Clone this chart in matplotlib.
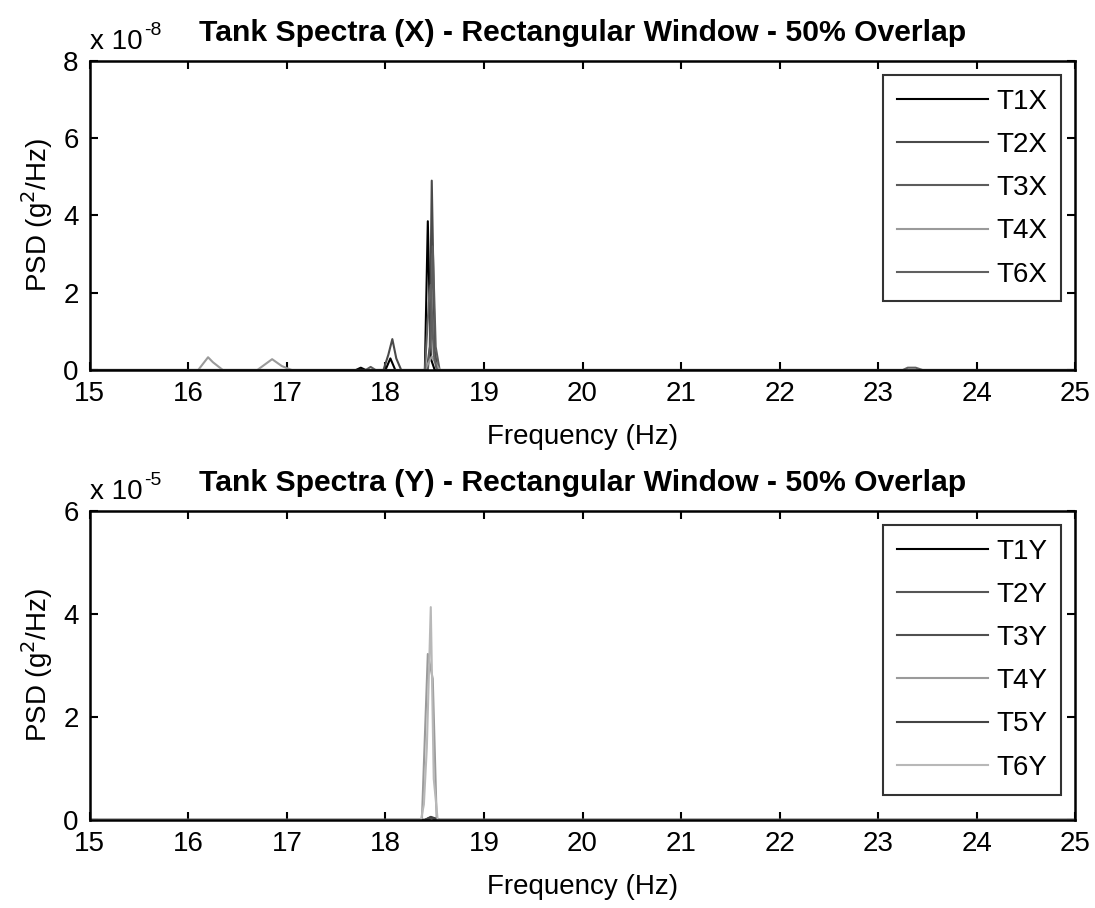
import matplotlib
matplotlib.use('Agg')
from matplotlib import pyplot as plt

plt.rcParams['font.family'] = ['Liberation Sans', 'DejaVu Sans']

# PSD in units of 1e-8 g^2/Hz (X direction)
t1x_f = [15.0, 17.70, 17.75, 17.80, 18.00, 18.05, 18.10, 18.40, 18.43, 18.46, 18.50, 25.0]
t1x_v = [0.0, 0.0, 0.06, 0.0, 0.0, 0.30, 0.0, 0.0, 3.85, 0.30, 0.0, 0.0]
t2x_f = [15.0, 17.98, 18.03, 18.07, 18.11, 18.16, 18.42, 18.45, 18.47, 18.50, 18.53, 25.0]
t2x_v = [0.0, 0.0, 0.40, 0.80, 0.30, 0.0, 0.0, 0.60, 4.90, 0.50, 0.0, 0.0]
t3x_f = [15.0, 17.80, 17.85, 17.90, 18.43, 18.46, 18.48, 18.51, 18.55, 25.0]
t3x_v = [0.0, 0.0, 0.08, 0.0, 0.0, 0.80, 3.20, 0.60, 0.0, 0.0]
t4x_f = [15.0, 16.10, 16.20, 16.25, 16.35, 16.70, 16.85, 16.95, 17.05, 18.40, 18.47, 18.55, 25.0]
t4x_v = [0.0, 0.0, 0.33, 0.20, 0.0, 0.0, 0.28, 0.10, 0.0, 0.0, 0.35, 0.0, 0.0]
t6x_f = [15.0, 18.40, 18.44, 18.46, 18.49, 18.52, 23.25, 23.30, 23.38, 23.45, 25.0]
t6x_v = [0.0, 0.0, 1.74, 2.20, 0.40, 0.0, 0.0, 0.06, 0.06, 0.0, 0.0]

# PSD in units of 1e-5 g^2/Hz (Y direction)
t1y_f = [15.0, 18.40, 18.46, 18.52, 25.0]
t1y_v = [0.0, 0.0, 0.05, 0.0, 0.0]
t2y_f = [15.0, 18.41, 18.47, 18.53, 25.0]
t2y_v = [0.0, 0.0, 0.04, 0.0, 0.0]
t3y_f = [15.0, 18.42, 18.47, 18.54, 25.0]
t3y_v = [0.0, 0.0, 0.04, 0.0, 0.0]
t4y_f = [15.0, 18.37, 18.43, 18.48, 18.52, 25.0]
t4y_v = [0.0, 0.0, 3.22, 2.74, 0.0, 0.0]
t5y_f = [15.0, 18.40, 18.46, 18.55, 25.0]
t5y_v = [0.0, 0.0, 0.06, 0.0, 0.0]
t6y_f = [15.0, 18.36, 18.39, 18.42, 18.46, 18.49, 18.53, 25.0]
t6y_v = [0.0, 0.0, 0.30, 1.40, 4.13, 0.80, 0.0, 0.0]

x_series = [('T1X', t1x_f, t1x_v, '#000000'),
            ('T2X', t2x_f, t2x_v, '#4a4a4a'),
            ('T3X', t3x_f, t3x_v, '#5c5c5c'),
            ('T4X', t4x_f, t4x_v, '#9a9a9a'),
            ('T6X', t6x_f, t6x_v, '#606060')]
y_series = [('T1Y', t1y_f, t1y_v, '#000000'),
            ('T2Y', t2y_f, t2y_v, '#555555'),
            ('T3Y', t3y_f, t3y_v, '#505050'),
            ('T4Y', t4y_f, t4y_v, '#9a9a9a'),
            ('T5Y', t5y_f, t5y_v, '#444444'),
            ('T6Y', t6y_f, t6y_v, '#b8b8b8')]

fig = plt.figure(figsize=(10.95, 9.08), dpi=100)
ax1 = fig.add_axes([0.082, 0.5925, 0.9, 0.3405])
ax2 = fig.add_axes([0.082, 0.097, 0.9, 0.3405])


def style_axes(ax, series, ymax, yticks, exponent, title):
    for name, f, v, c in series:
        ax.plot(f, v, color=c, linewidth=1.5, label=name)
    ax.set_xlim(15, 25)
    ax.set_ylim(0, ymax)
    ax.set_xticks(range(15, 26))
    ax.set_yticks(yticks)
    ax.tick_params(direction='in', length=6, width=1.5, top=True, right=True,
                   labelsize=20, pad=8)
    for s in ax.spines.values():
        s.set_linewidth(1.8)
    ax.set_xlabel('Frequency (Hz)', fontsize=20, labelpad=12)
    ax.set_ylabel('PSD (g$^2$/Hz)', fontsize=20, labelpad=6)
    ax.set_title(title, fontsize=21.7, fontweight='bold', pad=14)
    # scale factor label, drawn as plain text with a raised exponent
    ax.annotate('x 10', xy=(0.0, 1.02), xycoords='axes fraction',
                fontsize=20, ha='left', va='bottom')
    ax.annotate('%d' % exponent, xy=(0.0, 1.02), xycoords='axes fraction',
                xytext=(39, 11), textcoords='offset points',
                fontsize=14, ha='left', va='bottom')
    leg = ax.legend(loc='upper right', fontsize=20, frameon=True, fancybox=False,
                    handlelength=3.3, labelspacing=0.62, borderaxespad=0.5,
                    handletextpad=0.3, borderpad=0.5)
    leg.get_frame().set_edgecolor('black')
    leg.get_frame().set_linewidth(1.5)


style_axes(ax1, x_series, 8, [0, 2, 4, 6, 8], -8,
           'Tank Spectra (X) - Rectangular Window - 50% Overlap')
style_axes(ax2, y_series, 6, [0, 2, 4, 6], -5,
           'Tank Spectra (Y) - Rectangular Window - 50% Overlap')

plt.savefig('out.png', dpi=100)
plt.close()
